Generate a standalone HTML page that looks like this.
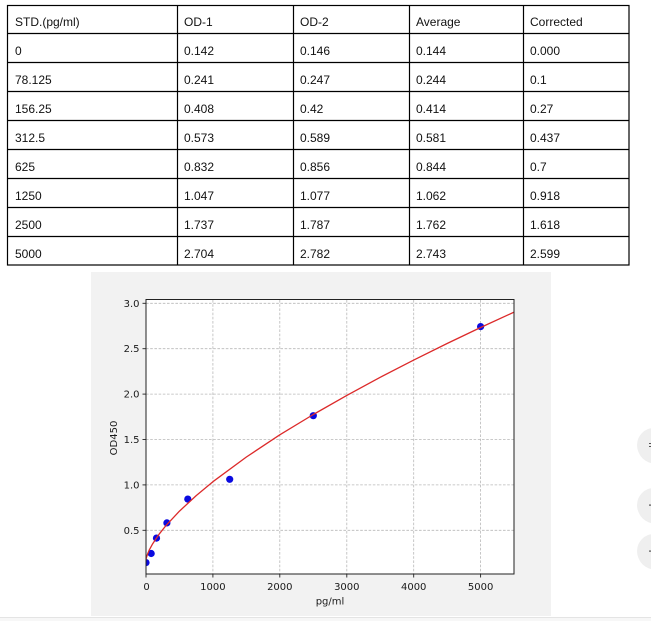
<!DOCTYPE html>
<html>
<head>
<meta charset="utf-8">
<style>
  html,body{margin:0;padding:0;background:#fff;}
  body{width:651px;height:621px;overflow:hidden;position:relative;}
  svg{position:absolute;left:0;top:0;}
  .tb{font-family:"Liberation Sans",sans-serif;font-size:12px;fill:#111;}
  .tk{font-family:"DejaVu Sans",sans-serif;font-size:10px;fill:#1a1a1a;}
</style>
</head>
<body>
<svg width="651" height="621" viewBox="0 0 651 621" xmlns="http://www.w3.org/2000/svg">
  <!-- bottom strip -->
  <rect x="0" y="617" width="651" height="4" fill="#f7f7f7"/>
  <line x1="0" y1="617.5" x2="651" y2="617.5" stroke="#e4e4e4" stroke-width="1"/>

  <!-- TABLE -->
  <g stroke="#000" stroke-width="1.2" fill="none">
    <rect x="7.5" y="5.5" width="621.5" height="259.5"/>
    <line x1="177.5" y1="5" x2="177.5" y2="265"/>
    <line x1="293.5" y1="5" x2="293.5" y2="265"/>
    <line x1="409.5" y1="5" x2="409.5" y2="265"/>
    <line x1="523.5" y1="5" x2="523.5" y2="265"/>
    <line x1="7" y1="33.5" x2="629" y2="33.5"/>
    <line x1="7" y1="62.5" x2="629" y2="62.5"/>
    <line x1="7" y1="91.5" x2="629" y2="91.5"/>
    <line x1="7" y1="120.5" x2="629" y2="120.5"/>
    <line x1="7" y1="149.5" x2="629" y2="149.5"/>
    <line x1="7" y1="178.5" x2="629" y2="178.5"/>
    <line x1="7" y1="207.5" x2="629" y2="207.5"/>
    <line x1="7" y1="236.5" x2="629" y2="236.5"/>
  </g>
  <g class="tb">
    <text x="15" y="26">STD.(pg/ml)</text><text x="184" y="26">OD-1</text><text x="300" y="26">OD-2</text><text x="416" y="26">Average</text><text x="530" y="26">Corrected</text>
    <text x="15" y="55">0</text><text x="184" y="55">0.142</text><text x="300" y="55">0.146</text><text x="416" y="55">0.144</text><text x="530" y="55">0.000</text>
    <text x="15" y="84">78.125</text><text x="184" y="84">0.241</text><text x="300" y="84">0.247</text><text x="416" y="84">0.244</text><text x="530" y="84">0.1</text>
    <text x="15" y="113">156.25</text><text x="184" y="113">0.408</text><text x="300" y="113">0.42</text><text x="416" y="113">0.414</text><text x="530" y="113">0.27</text>
    <text x="15" y="142">312.5</text><text x="184" y="142">0.573</text><text x="300" y="142">0.589</text><text x="416" y="142">0.581</text><text x="530" y="142">0.437</text>
    <text x="15" y="171">625</text><text x="184" y="171">0.832</text><text x="300" y="171">0.856</text><text x="416" y="171">0.844</text><text x="530" y="171">0.7</text>
    <text x="15" y="200">1250</text><text x="184" y="200">1.047</text><text x="300" y="200">1.077</text><text x="416" y="200">1.062</text><text x="530" y="200">0.918</text>
    <text x="15" y="229">2500</text><text x="184" y="229">1.737</text><text x="300" y="229">1.787</text><text x="416" y="229">1.762</text><text x="530" y="229">1.618</text>
    <text x="15" y="258">5000</text><text x="184" y="258">2.704</text><text x="300" y="258">2.782</text><text x="416" y="258">2.743</text><text x="530" y="258">2.599</text>
  </g>

  <!-- CHART PANEL -->
  <rect x="91" y="272" width="460" height="344" fill="#f2f2f2"/>
  <rect x="146" y="299.5" width="368" height="274.5" fill="#fff"/>

  <defs>
    <clipPath id="ax"><rect x="146" y="299.5" width="368" height="274.5"/></clipPath>
  </defs>

  <!-- grid -->
  <g stroke="#b8b8b8" stroke-width="0.8" stroke-dasharray="2.6,1.6" fill="none">
    <line x1="212.9" y1="300" x2="212.9" y2="574"/>
    <line x1="279.8" y1="300" x2="279.8" y2="574"/>
    <line x1="346.8" y1="300" x2="346.8" y2="574"/>
    <line x1="413.7" y1="300" x2="413.7" y2="574"/>
    <line x1="480.6" y1="300" x2="480.6" y2="574"/>
    <line x1="146" y1="530.3" x2="514" y2="530.3"/>
    <line x1="146" y1="484.9" x2="514" y2="484.9"/>
    <line x1="146" y1="439.5" x2="514" y2="439.5"/>
    <line x1="146" y1="394.1" x2="514" y2="394.1"/>
    <line x1="146" y1="348.7" x2="514" y2="348.7"/>
    <line x1="146" y1="303.3" x2="514" y2="303.3"/>
  </g>

  <!-- points -->
  <g fill="#0a0ae0" clip-path="url(#ax)">
    <circle cx="146" cy="562.6" r="3.6"/>
    <circle cx="151.2" cy="553.5" r="3.6"/>
    <circle cx="156.5" cy="538.1" r="3.6"/>
    <circle cx="166.9" cy="522.9" r="3.6"/>
    <circle cx="187.8" cy="499.1" r="3.6"/>
    <circle cx="229.7" cy="479.3" r="3.6"/>
    <circle cx="313.3" cy="415.7" r="3.6"/>
    <circle cx="480.6" cy="326.6" r="3.6"/>
  </g>

  <!-- curve -->
  <polyline clip-path="url(#ax)" fill="none" stroke="#dc2a2a" stroke-width="1.3" stroke-linejoin="round"
    points="146,560.3 146.1,559.1 146.3,558.1 146.7,556.7 147.7,553.7 149.3,549.9 152.7,543.7 159.4,533.8 166.1,525.4 179.5,511.1 196.2,495.6 212.9,481.7 246.4,457.0 279.8,434.8 313.3,414.5 346.8,395.4 380.2,377.3 413.7,360.1 447.1,343.5 480.6,327.5 514.1,312.1"/>

  <!-- axes frame -->
  <rect x="146" y="299.5" width="368" height="274.5" fill="none" stroke="#222" stroke-width="1"/>

  <!-- ticks -->
  <g stroke="#222" stroke-width="0.9">
    <line x1="146" y1="574" x2="146" y2="577.5"/>
    <line x1="212.9" y1="574" x2="212.9" y2="577.5"/>
    <line x1="279.8" y1="574" x2="279.8" y2="577.5"/>
    <line x1="346.8" y1="574" x2="346.8" y2="577.5"/>
    <line x1="413.7" y1="574" x2="413.7" y2="577.5"/>
    <line x1="480.6" y1="574" x2="480.6" y2="577.5"/>
    <line x1="142.5" y1="530.3" x2="146" y2="530.3"/>
    <line x1="142.5" y1="484.9" x2="146" y2="484.9"/>
    <line x1="142.5" y1="439.5" x2="146" y2="439.5"/>
    <line x1="142.5" y1="394.1" x2="146" y2="394.1"/>
    <line x1="142.5" y1="348.7" x2="146" y2="348.7"/>
    <line x1="142.5" y1="303.3" x2="146" y2="303.3"/>
  </g>

  <g class="tk" text-anchor="end">
    <text x="139.5" y="533.8">0.5</text>
    <text x="139.5" y="488.4">1.0</text>
    <text x="139.5" y="443">1.5</text>
    <text x="139.5" y="397.6">2.0</text>
    <text x="139.5" y="352.2">2.5</text>
    <text x="139.5" y="306.8">3.0</text>
  </g>
  <g class="tk" text-anchor="middle">
    <text x="146.5" y="590">0</text>
    <text x="212.9" y="590">1000</text>
    <text x="279.8" y="590">2000</text>
    <text x="346.8" y="590">3000</text>
    <text x="413.7" y="590">4000</text>
    <text x="480.6" y="590">5000</text>
    <text x="330" y="604.5">pg/ml</text>
    <text x="0" y="0" transform="translate(117,438) rotate(-90)">OD450</text>
  </g>

  <!-- right side floating buttons -->
  <g>
    <circle cx="655" cy="446" r="17.5" fill="#e2e2e2" opacity="0.6"/>
    <circle cx="654" cy="445" r="17" fill="#efefef"/>
    <circle cx="655" cy="506" r="17.5" fill="#e2e2e2" opacity="0.6"/>
    <circle cx="654" cy="505" r="17" fill="#efefef"/>
    <circle cx="655" cy="552" r="17.5" fill="#e2e2e2" opacity="0.6"/>
    <circle cx="654" cy="551" r="17" fill="#efefef"/>
    <rect x="649" y="443" width="3" height="1" fill="#555"/>
    <rect x="649" y="446" width="3" height="1" fill="#555"/>
    <rect x="649" y="504.5" width="3" height="1.2" fill="#555"/>
    <rect x="649" y="550.5" width="3" height="1.2" fill="#555"/>
  </g>
</svg>
</body>
</html>
